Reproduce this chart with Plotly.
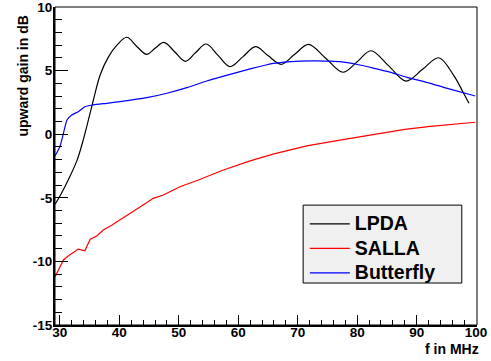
import plotly.graph_objects as go

# Frequency (MHz) and upward gain (dB) for the three antennas
lpda_f = [29.2, 30.2, 31.4, 32.85, 33.96, 35.5, 36.8, 38.2, 39.6, 41.25, 42.9,
          44.6, 46.0, 47.5, 49.3, 51.1, 52.8, 54.6, 56.6, 58.6, 60.8, 62.9, 65.0,
          67.2, 69.5, 71.8, 74.7, 77.6, 80.0, 82.3, 85.3, 88.2, 91.0, 93.7, 96.2,
          97.9, 98.8]
lpda_g = [-5.5, -4.7, -3.6, -2.1, -0.4, 2.43, 4.7, 6.1, 7.0, 7.62, 6.92,
          6.28, 6.75, 7.22, 6.48, 5.73, 6.4, 7.09, 6.2, 5.31, 6.1, 6.88, 6.18,
          5.49, 6.28, 7.06, 5.97, 4.87, 5.7, 6.56, 5.37, 4.18, 5.1, 6.01, 4.65,
          3.22, 2.43]

salla_f = [29.2, 30.0, 30.6, 31.4, 32.3, 33.1, 34.2, 35.1, 36.2, 37.3, 38.7, 40.1,
           42.0, 44.0, 45.7, 47.4, 50.2, 53.3, 57.5, 62.0, 66.0, 71.5, 77.1, 83.9,
           88.0, 92.3, 96.0, 99.85]
salla_g = [-11.2, -10.5, -9.89, -9.58, -9.3, -9.03, -9.16, -8.26, -8.0, -7.53, -7.15, -6.75,
           -6.15, -5.57, -5.04, -4.78, -4.13, -3.6, -2.81, -2.1, -1.55, -0.92, -0.46, 0.1,
           0.38, 0.62, 0.8, 0.94]

butterfly_f = [29.2, 30.0, 30.6, 31.2, 32.0, 33.1, 34.2, 35.6, 37.9, 40.1, 44.6, 48.0,
               51.35, 54.7, 58.0, 62.0, 65.9, 70.4, 73.0, 75.5, 77.1, 80.0, 82.7, 85.5,
               88.4, 92.3, 95.0, 99.85]
butterfly_g = [-1.69, -0.98, 0.07, 1.12, 1.51, 1.77, 2.16, 2.3, 2.43, 2.56, 2.87, 3.22,
               3.66, 4.18, 4.62, 5.13, 5.57, 5.75, 5.77, 5.74, 5.7, 5.48, 5.2, 4.88,
               4.47, 4.0, 3.62, 3.0]

x_major = [30, 40, 50, 60, 70, 80, 90, 100]
x_labels = ["30", "40", "50", "60", "70", "80", "90", "100"]
y_major = [-15, -10, -5, 0, 5, 10]
y_labels = ["-15", "-10", "-5", "0", "5", "10"]

FONT = "Liberation Sans, Arial, Helvetica, sans-serif"


def legend_label(text):
    return "<span style='font-size:19.5px'>" + text + "</span>"


fig = go.Figure()
fig.add_trace(go.Scatter(x=lpda_f, y=lpda_g, mode="lines", name=legend_label("LPDA"),
                         line=dict(color="black", width=1.2, shape="spline", smoothing=1.0)))
fig.add_trace(go.Scatter(x=salla_f, y=salla_g, mode="lines", name=legend_label("SALLA"),
                         line=dict(color="#ff0000", width=1.2)))
fig.add_trace(go.Scatter(x=butterfly_f, y=butterfly_g, mode="lines", name=legend_label("Butterfly"),
                         line=dict(color="#0000ff", width=1.2, shape="spline", smoothing=0.6)))

tick_font = dict(family=FONT, size=13.5, color="black", weight="bold")
title_font = dict(family=FONT, size=14, color="black", weight="bold")

fig.update_layout(
    width=491, height=361, autosize=False,
    margin=dict(l=55, r=14, t=7, b=36, autoexpand=False),
    paper_bgcolor="white", plot_bgcolor="white",
    showlegend=True,
    legend=dict(x=0.592, y=0.372, xanchor="left", yanchor="top",
                bgcolor="rgba(0,0,0,0)", borderwidth=0,
                font=dict(family=FONT, size=16.5, color="black", weight="bold"),
                tracegroupgap=0, itemwidth=40),
    xaxis=dict(range=[29.18, 100.15], showgrid=False, zeroline=False, automargin=False,
               showline=True, linecolor="black", linewidth=2,
               tickmode="array", tickvals=x_major, ticktext=x_labels,
               ticks="inside", ticklen=10, tickwidth=1, tickcolor="black",
               minor=dict(dtick=2, tick0=30, ticks="inside", ticklen=5,
                          tickwidth=1, tickcolor="black"),
               tickfont=tick_font, ticklabelstandoff=-6, ticklabeloverflow="allow"),
    yaxis=dict(range=[-15.0, 10.0], showgrid=False, zeroline=False, automargin=False,
               showline=True, linecolor="black", linewidth=2,
               tickmode="array", tickvals=y_major, ticktext=y_labels,
               ticks="inside", ticklen=13, tickwidth=1, tickcolor="black",
               minor=dict(dtick=1, tick0=-15, ticks="inside", ticklen=7,
                          tickwidth=1, tickcolor="black"),
               tickfont=tick_font, ticklabelstandoff=-2, ticklabeloverflow="allow"),
    shapes=[
        # frame around the plotting area
        dict(type="rect", xref="paper", yref="paper", x0=0, y0=0, x1=1, y1=1,
             line=dict(color="black", width=1), layer="above"),
        # legend box
        dict(type="rect", xref="paper", yref="paper",
             x0=0.588, x1=0.964, y0=0.132, y1=0.377,
             fillcolor="#f0f0f0", line=dict(color="black", width=1), layer="below"),
    ],
    annotations=[
        dict(text="upward gain in dB", xref="paper", yref="paper", x=0, y=1,
             xanchor="center", yanchor="top", xshift=-33, yshift=-7,
             textangle=-90, showarrow=False, font=title_font),
        dict(text="f in MHz", xref="paper", yref="paper", x=1, y=0,
             xanchor="right", yanchor="top", yshift=-14, xshift=4,
             showarrow=False, font=title_font),
    ],
)

fig.write_html("out.html")
